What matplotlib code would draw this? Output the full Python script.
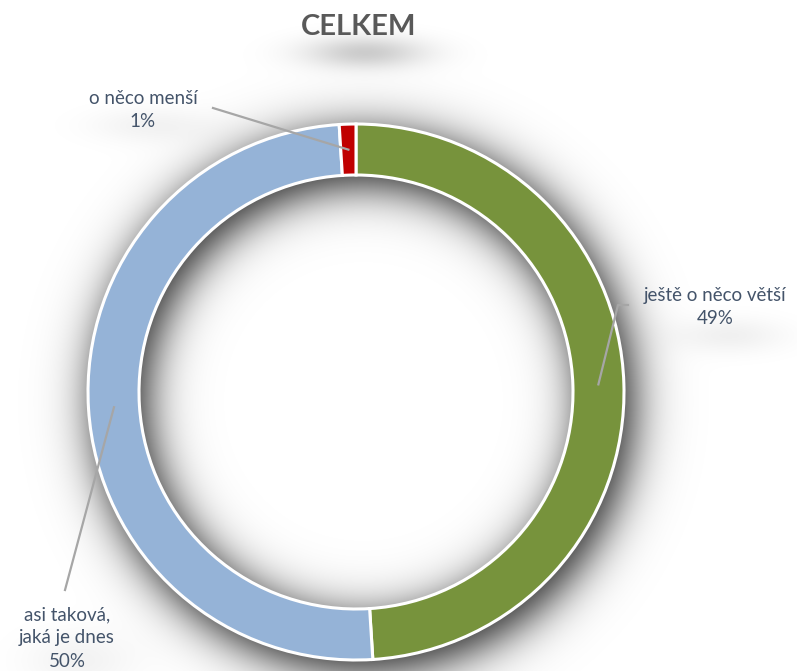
# -*- coding: utf-8 -*-
import numpy as np
import matplotlib
matplotlib.use('Agg')
import matplotlib.pyplot as plt

categories = ['ještě o něco větší', 'asi taková,\njaká je dnes', 'o něco menší']
values = [49, 50, 1]
colors = ['#77933C', '#95B3D7', '#C00000']

W, H = 797, 671
cx, cy = 356, H - 392      # ring centre (plot coords, y up)
R, ring_w = 268, 51

# label text centre and leader elbow points (image coords)
label_pos = [(715, 307), (67, 638), (143, 110)]
leader_from = [[(628, 305), (618, 305)], [(65, 590)], [(213, 108)]]


def sig(x):
    return 1.0 / (1.0 + np.exp(-1.7 * x))


fig = plt.figure(figsize=(W / 100, H / 100), dpi=100)
ax = fig.add_axes([0, 0, 1, 1])

# soft shadow under the ring, the title and labels
yy, xx = np.mgrid[0:H, 0:W]
yy = H - yy
d = np.hypot(xx - (cx + 7), yy - (cy - 9))
sigma = 24.0
ring = sig((d - (R - ring_w)) / sigma) - sig((d - R) / sigma)


def blob(x0, y0, sx, sy):
    return np.exp(-(((xx - x0) / sx) ** 2 + ((yy - (H - y0)) / sy) ** 2))


extra = (0.2 * blob(365, 52, 60, 16) + 0.06 * blob(730, 335, 55, 18)
         + 0.05 * blob(150, 125, 60, 18) + 0.05 * blob(80, 660, 55, 30))
alpha = np.clip(0.62 * np.clip(ring * 1.6, 0, 1) + extra, 0, 1)
shadow = np.zeros((H, W, 4))
shadow[..., 3] = alpha
ax.imshow(shadow, extent=(0, W, 0, H), origin='upper', zorder=0, interpolation='bilinear')

ax.pie(values, colors=colors, startangle=90, counterclock=False, radius=R,
       center=(cx, cy), frame=True,
       wedgeprops=dict(width=ring_w, edgecolor='white', linewidth=2.2))
ax.set_xlim(0, W)
ax.set_ylim(0, H)
ax.set_aspect('equal')
ax.axis('off')

# data labels with leader lines to the middle of each segment
start = 90.0
for cat, val, pos, pts in zip(categories, values, label_pos, leader_from):
    mid = np.radians(start - val / 2 * 3.6)
    start -= val * 3.6
    rm = R - ring_w / 2
    ax_pt = (cx + rm * np.cos(mid), cy + rm * np.sin(mid))
    xs = [p[0] for p in pts] + [ax_pt[0]]
    ys = [H - p[1] for p in pts] + [ax_pt[1]]
    ax.plot(xs, ys, color='#A6A6A6', lw=1.6, zorder=5)
    ax.text(pos[0], H - pos[1], f'{cat}\n{val}%', ha='center', va='center',
            multialignment='center', fontsize=13.5, color='#44546A',
            family=['Lato', 'DejaVu Sans'], linespacing=1.45, zorder=6)

ax.text(359, H - 27, 'CELKEM', ha='center', va='center', fontsize=21,
        fontweight='bold', color='#595959', family=['Lato', 'DejaVu Sans'], zorder=6)

fig.savefig('out.png', dpi=100, facecolor='white')
